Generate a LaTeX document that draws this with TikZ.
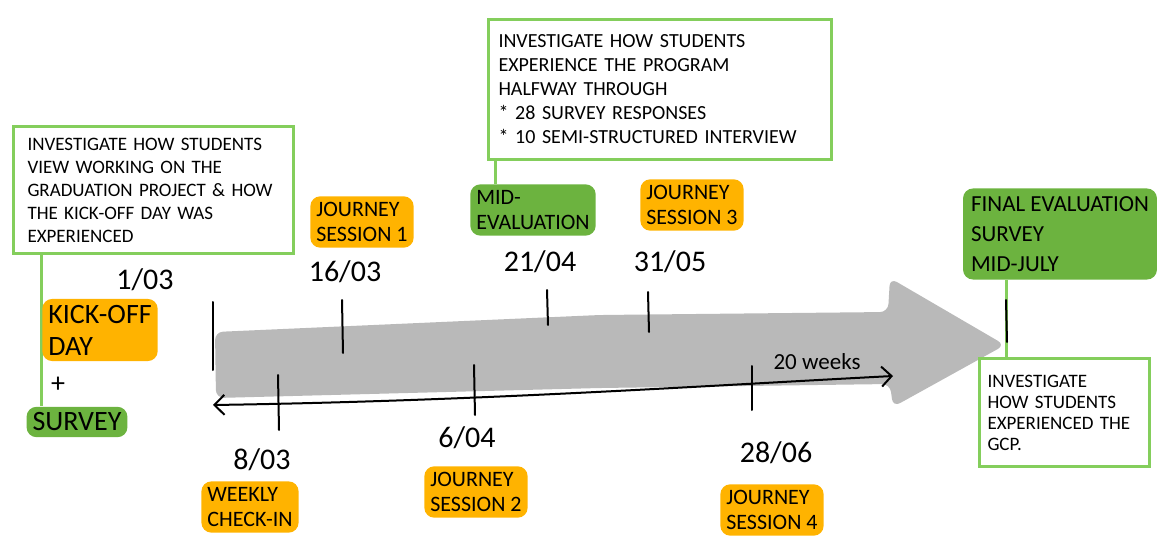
\documentclass[tikz,border=0pt]{standalone}
\usepackage{fontspec}
\setmainfont{Carlito}
\usetikzlibrary{arrows.meta,backgrounds}

\definecolor{tagorange}{RGB}{255,179,0}
\definecolor{taggreen}{RGB}{108,179,63}
\definecolor{boxgreen}{RGB}{132,206,92}
\definecolor{arrowgray}{RGB}{185,185,185}

\tikzset{
    orangetag/.style={fill=tagorange, rounded corners=5pt, inner sep=3pt, align=left, font=\fontsize{11}{12.5}\selectfont},
    greentag/.style={orangetag, fill=taggreen},
    datelabel/.style={font=\fontsize{15}{16}\selectfont},
    notebox/.style={draw=boxgreen, line width=1.5pt, align=left, anchor=north west, inner ysep=0pt},
    boxline/.style={draw=boxgreen, line width=1.5pt},
    ticks/.style={line width=1pt, line cap=round},
    barb/.tip={Straight Barb[length=5pt, width=10pt]},
}

\begin{document}
\begin{tikzpicture}[x=0.5pt, y=-0.5pt]
    \useasboundingbox (0, 0) rectangle (1168, 540);
    % notes
    \node[notebox, text width=126pt, inner xsep=7pt, minimum height=63.5pt, font=\fontsize{9.5}{11.5}\selectfont] (startbox) at (12, 125) {INVESTIGATE HOW STUDENTS\\VIEW WORKING ON THE\\GRADUATION PROJECT \& HOW\\THE KICK-OFF DAY WAS\\EXPERIENCED};
    \node[notebox, text width=161.5pt, inner xsep=5pt, minimum height=70pt, font=\fontsize{10}{12}\selectfont] (midbox) at (487, 18) {INVESTIGATE HOW STUDENTS\\EXPERIENCE THE PROGRAM\\HALFWAY THROUGH\\{*} 28 SURVEY RESPONSES\\{*} 10 SEMI-STRUCTURED INTERVIEW};
    \node[notebox, text width=77pt, inner xsep=4pt, minimum height=54pt, font=\fontsize{9.5}{10.5}\selectfont] (endbox) at (978, 357) {INVESTIGATE\\HOW STUDENTS\\EXPERIENCED THE\\GCP.};
    % events
    \node[orangetag, font=\fontsize{14}{16}\selectfont] (kickoff) at (100, 330) {KICK-OFF\\DAY};
    \node[font=\fontsize{14}{16}\selectfont] (plus) at (58, 385) {+};
    \node[greentag, font=\fontsize{14}{16}\selectfont] (survey) at (77, 422) {SURVEY};
    \node[orangetag] (session1) at (362, 222) {JOURNEY\\SESSION 1};
    \node[greentag] (mideval) at (533, 210) {MID-\\EVALUATION};
    \node[orangetag] (session3) at (692, 205) {JOURNEY\\SESSION 3};
    \node[orangetag] (checkin) at (250, 507) {WEEKLY\\CHECK-IN};
    \node[orangetag] (session2) at (476, 492) {JOURNEY\\SESSION 2};
    \node[orangetag] (session4) at (772, 510) {JOURNEY\\SESSION 4};
    \node[greentag, font=\fontsize{11.5}{15}\selectfont, inner sep=4pt] (final) at (1060, 234) {FINAL EVALUATION\\SURVEY\\MID-JULY};
    % dates
    \node[datelabel] (d0103) at (145, 280) {1/03};
    \node[datelabel] (d1603) at (345, 272) {16/03};
    \node[datelabel] (d2104) at (540, 262) {21/04};
    \node[datelabel] (d3105) at (670, 262) {31/05};
    \node[datelabel] (d0803) at (262, 460) {8/03};
    \node[datelabel] (d0604) at (467, 438) {6/04};
    \node[datelabel] (d2806) at (776, 453) {28/06};
    % timeline
    \coordinate (finalmark) at (1006, 320);
    \draw[ticks] (213, 302) -- (213, 370);
    \draw[ticks] (342, 300) -- (343, 353);
    \draw[ticks] (547, 290) -- (548, 325);
    \draw[ticks] (648, 292) -- (649, 332);
    \draw[ticks] (278, 375) -- (279, 430);
    \draw[ticks] (474, 365) -- (475, 415);
    \draw[ticks] (752, 366) -- (752, 410);
    \draw[ticks] (finalmark) ++(0, -20) -- ++(1, 42);
    \draw[ticks, barb-barb] (213, 405) .. controls (480, 401) and (700, 386) .. (893, 376);
    \node[font=\fontsize{11.5}{12}\selectfont] (weeks) at (817, 362) {20 weeks};
    \begin{scope}[on background layer]
        \fill[arrowgray, rounded corners=4pt] (215, 332) -- (600, 315) -- (888, 312) -- (890, 278) -- (1005, 345) -- (893, 407) -- (890, 384) -- (600, 388) -- (216, 398) -- cycle;
        \draw[boxline] (startbox.south -| kickoff.west) -- (survey.north -| kickoff.west);
        \draw[boxline] ([xshift=4pt]midbox.south west) -- ([xshift=4pt]midbox.south west |- mideval.north);
        \draw[boxline] (final.south -| finalmark) -- (endbox.north -| finalmark);
    \end{scope}
\end{tikzpicture}
\end{document}
